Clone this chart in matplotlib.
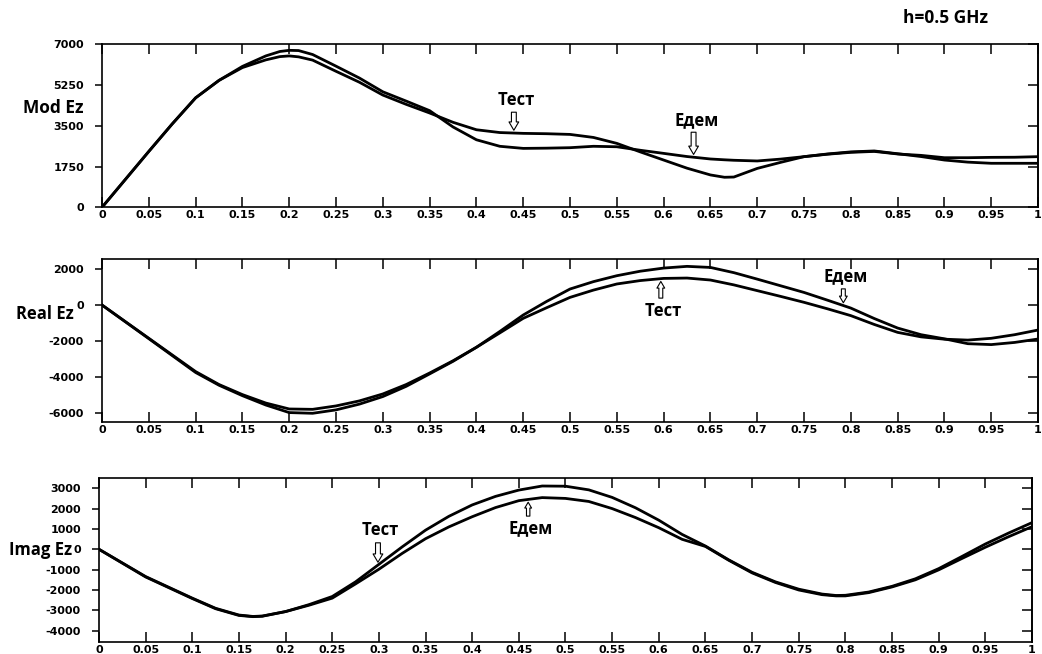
import numpy as np
import matplotlib
matplotlib.use("Agg")
import matplotlib.pyplot as plt

plt.rcParams['axes.unicode_minus'] = False

# ---- data ----
# Mod Ez
mod_x = [0, 0.025, 0.05, 0.075, 0.1, 0.125, 0.15, 0.175, 0.19, 0.2, 0.21, 0.225, 0.25, 0.275,
         0.3, 0.325, 0.35, 0.375, 0.4, 0.425, 0.45, 0.475, 0.5, 0.525, 0.55, 0.575, 0.6,
         0.625, 0.65, 0.665, 0.675, 0.7, 0.725, 0.75, 0.775, 0.8, 0.825, 0.85, 0.875, 0.9,
         0.925, 0.95, 0.975, 1.0]
mod_test = [0, 1200, 2400, 3580, 4700, 5450, 6000, 6330, 6470, 6500, 6460, 6320, 5840, 5370,
            4820, 4420, 4050, 3650, 3330, 3210, 3175, 3160, 3130, 3000, 2745, 2380, 2030,
            1680, 1390, 1290, 1300, 1670, 1930, 2175, 2290, 2380, 2420, 2300, 2180, 2030,
            1940, 1890, 1890, 1890]
mod_edem = [0, 1200, 2400, 3580, 4700, 5450, 6050, 6500, 6690, 6740, 6730, 6560, 6060, 5550,
            4960, 4560, 4150, 3450, 2900, 2620, 2530, 2540, 2560, 2620, 2600, 2450, 2316,
            2180, 2075, 2040, 2020, 1990, 2070, 2175, 2280, 2360, 2400, 2290, 2230, 2130,
            2130, 2145, 2150, 2175]

# Real Ez
re_x = [0, 0.05, 0.1, 0.125, 0.15, 0.175, 0.2, 0.225, 0.25, 0.275, 0.3, 0.325, 0.35, 0.375,
        0.4, 0.425, 0.45, 0.475, 0.5, 0.525, 0.55, 0.575, 0.6, 0.625, 0.65, 0.675, 0.7,
        0.725, 0.75, 0.775, 0.8, 0.825, 0.85, 0.875, 0.9, 0.925, 0.95, 0.975, 1.0]
re_test = [0, -1850, -3700, -4420, -4980, -5450, -5780, -5800, -5610, -5330, -4945, -4420,
           -3780, -3100, -2350, -1550, -740, -150, 425, 830, 1170, 1360, 1480, 1500, 1390,
           1120, 800, 480, 150, -210, -590, -1080, -1520, -1770, -1900, -1950, -1850, -1650,
           -1390]
re_edem = [0, -1870, -3750, -4460, -5040, -5560, -5980, -6020, -5830, -5510, -5090, -4520,
           -3830, -3130, -2350, -1470, -555, 200, 890, 1300, 1630, 1880, 2055, 2150, 2090,
           1800, 1440, 1070, 700, 270, -170, -750, -1280, -1650, -1880, -2150, -2200, -2080,
           -1890]

# Imag Ez
im_x = [0, 0.05, 0.1, 0.125, 0.15, 0.165, 0.175, 0.2, 0.225, 0.25, 0.275, 0.3, 0.325, 0.35,
        0.375, 0.4, 0.425, 0.45, 0.475, 0.5, 0.525, 0.55, 0.575, 0.6, 0.625, 0.65, 0.675,
        0.7, 0.725, 0.75, 0.775, 0.79, 0.8, 0.825, 0.85, 0.875, 0.9, 0.925, 0.95, 0.975, 1.0]
im_test = [0, -1340, -2400, -2900, -3230, -3300, -3280, -3060, -2720, -2320, -1600, -740,
           120, 940, 1620, 2180, 2600, 2910, 3110, 3100, 2920, 2550, 2040, 1430, 730, 160,
           -520, -1130, -1600, -1960, -2200, -2270, -2260, -2100, -1820, -1450, -950, -350,
           260, 800, 1310]
im_edem = [0, -1360, -2420, -2920, -3250, -3310, -3290, -3060, -2750, -2400, -1700, -980,
           -200, 520, 1100, 1600, 2050, 2390, 2540, 2500, 2350, 2000, 1560, 1060, 490, 140,
           -540, -1160, -1630, -2000, -2230, -2290, -2290, -2130, -1850, -1500, -1010, -450,
           100, 620, 1110]

x_ticks = [round(0.05 * i, 2) for i in range(21)]
x_labels = ['%g' % t for t in x_ticks]
mod_yticks = [0, 1750, 3500, 5250, 7000]
re_yticks = [-6000, -4000, -2000, 0, 2000]
im_yticks = [-4000, -3000, -2000, -1000, 0, 1000, 2000, 3000]

fig = plt.figure(figsize=(10.42, 6.54), dpi=100)
ax1 = fig.add_axes([0.0979, 0.683, 0.8983, 0.2493])
ax2 = fig.add_axes([0.0979, 0.3543, 0.8983, 0.2497])
ax3 = fig.add_axes([0.0950, 0.0179, 0.8954, 0.2508])

tick_font = dict(fontsize=8, fontweight='bold', family='DejaVu Sans')
lab_font = dict(fontsize=12.5, fontweight='bold', family='Open Sans')


def setup(ax, yticks, ylim):
    ax.set_xlim(0, 1)
    ax.set_ylim(*ylim)
    ax.set_xticks(x_ticks)
    ax.set_xticklabels(x_labels, **tick_font)
    ax.set_yticks(yticks)
    ax.set_yticklabels([str(v) for v in yticks], **tick_font)
    ax.tick_params(axis='x', top=True, bottom=True, direction='in', length=7, width=1.1, pad=2)
    ax.tick_params(axis='y', direction='out', length=5, width=1.1, pad=8)
    sec = ax.secondary_yaxis('right')
    sec.set_yticks(yticks)
    sec.set_yticklabels([])
    sec.tick_params(direction='in', length=7, width=1.1)
    sec.spines['right'].set_linewidth(1.2)
    for s in ax.spines.values():
        s.set_linewidth(1.2)


for ax, x, a, b in [(ax1, mod_x, mod_test, mod_edem),
                    (ax2, re_x, re_test, re_edem),
                    (ax3, im_x, im_test, im_edem)]:
    ax.plot(x, a, color='black', lw=2.0)
    ax.plot(x, b, color='black', lw=2.0)

setup(ax1, mod_yticks, (0, 7000))
setup(ax2, re_yticks, (-6520, 2560))
setup(ax3, im_yticks, (-4570, 3490))


def marker(ax, x, xs, ys, text, down=True, length=15, gap=2, scale=10):
    y = np.interp(x, xs, ys)
    sign = 1 if down else -1
    ax.annotate('', xy=(x, y), xycoords='data',
                xytext=(0, sign * (length + gap)), textcoords='offset points',
                arrowprops=dict(arrowstyle='simple,head_length=0.6,head_width=0.7,tail_width=0.35',
                                fc='white', ec='black', lw=0.8, mutation_scale=scale,
                                shrinkA=0, shrinkB=gap))
    ax.annotate(text, xy=(x, y), xycoords='data',
                xytext=(2, sign * (length + gap + 9)), textcoords='offset points',
                ha='center', va='center', **dict(lab_font, fontsize=12))


marker(ax1, 0.44, mod_x, mod_test, 'Тест', down=True, length=13)
marker(ax1, 0.632, mod_x, mod_edem, 'Едем', down=True, length=16)
marker(ax2, 0.597, re_x, re_test, 'Тест', down=False, length=12, scale=8)
marker(ax2, 0.792, re_x, re_edem, 'Едем', down=True, length=10, scale=8)
marker(ax3, 0.299, im_x, im_test, 'Тест', down=True, length=14)
marker(ax3, 0.46, im_x, im_edem, 'Едем', down=False, length=10, scale=7)

fig.text(0.051, 1 - 108 / 654, 'Mod Ez', ha='center', va='center', **lab_font)
fig.text(0.043, 1 - 314 / 654, 'Real Ez', ha='center', va='center',
         **dict(lab_font, fontsize=12))
fig.text(0.039, 1 - 550 / 654, 'Imag Ez', ha='center', va='center',
         **dict(lab_font, fontsize=12))
fig.text(0.907, 1 - 18 / 654, 'h=0.5 GHz', ha='center', va='center', **lab_font)

fig.savefig('out.png', dpi=100)
